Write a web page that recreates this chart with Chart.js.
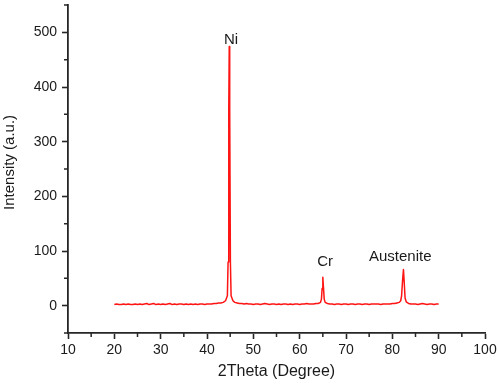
<!DOCTYPE html>
<html>
<head>
<meta charset="utf-8">
<script src="https://cdn.jsdelivr.net/npm/chart.js@4.4.0/dist/chart.umd.min.js"></script>
<style>
  html, body { margin: 0; padding: 0; background: #fff; }
</style>
</head>
<body>
<canvas id="xrd" width="498" height="384"></canvas>
<script>
// XRD pattern — 2θ scan, Ni / Cr / Austenite reflections.
const twoTheta = [
  20, 20.5, 21, 21.5, 22, 22.5, 23, 23.5, 24, 24.5, 25, 25.5, 26, 26.5, 27, 27.5, 28, 28.5, 29, 29.5,
  30, 30.5, 31, 31.5, 32, 32.5, 33, 33.5, 34, 34.5, 35, 35.5, 36, 36.5, 37, 37.5, 38, 38.5, 39, 39.5,
  40, 40.5, 41, 41.5, 42, 42.5, 43, 43.5, 44, 44.4, 44.55, 44.7, 44.8, 44.9, 45.05, 45.2, 45.6, 46, 46.5, 47, 47.5,
  48, 48.5, 49, 49.5, 50, 50.5, 51, 51.5, 52, 52.5, 53, 53.5, 54, 54.5, 55, 55.5, 56, 56.5, 57, 57.5,
  58, 58.5, 59, 59.5, 60, 60.5, 61, 61.5, 62, 62.5, 63, 63.5, 64, 64.5, 64.7, 64.85, 65, 65.15, 65.3, 65.5, 66, 66.5,
  67, 67.5, 68, 68.5, 69, 69.5, 70, 70.5, 71, 71.5, 72, 72.5, 73, 73.5, 74, 74.5, 75, 75.5, 76, 76.5,
  77, 77.5, 78, 78.5, 79, 79.5, 80, 80.5, 81, 81.5, 81.8, 82, 82.2, 82.4, 82.55, 82.75, 83, 83.5, 84, 84.5,
  85, 85.5, 86, 86.5, 87, 87.5, 88, 88.5, 89, 89.5, 90,
];
const intensity = [
  2, 3, 2, 2, 3, 2, 3, 2, 2, 3, 2, 3, 2, 3, 4, 2, 3, 4, 2, 3,
  2, 3, 2, 3, 4, 2, 3, 2, 3, 3, 2, 3, 2, 3, 2, 3, 2, 3, 3, 2,
  3, 3, 3, 4, 4, 5, 5, 6, 9, 18, 80, 360, 474, 360, 80, 18, 9, 6, 5, 4, 4,
  3, 4, 3, 3, 2, 3, 3, 2, 3, 4, 3, 2, 3, 3, 2, 3, 2, 3, 3, 2,
  3, 2, 3, 3, 2, 3, 3, 4, 3, 3, 3, 4, 4, 6, 12, 32, 52, 32, 12, 6, 4, 3,
  3, 2, 3, 3, 2, 3, 3, 2, 3, 3, 2, 3, 3, 2, 3, 3, 2, 3, 3, 3,
  3, 2, 3, 3, 3, 3, 4, 4, 5, 6, 9, 18, 45, 66, 45, 14, 7, 4, 3, 3,
  3, 2, 3, 4, 3, 2, 3, 3, 2, 3, 3,
];

const xMajor = [10, 20, 30, 40, 50, 60, 70, 80, 90, 100];
const xMinor = [15, 25, 35, 45, 55, 65, 75, 85, 95];
const yMajor = [0, 100, 200, 300, 400, 500];
const yMinor = [-50, 50, 150, 250, 350, 450, 550];

const peakNames = ['Ni', 'Cr', 'Austenite'];
const peakX = [45.2, 65.5, 81.7];
const peakY = [487, 81, 90];

const AXIS = '#262626';
const TEXT = '#1a1a1a';
const FONT = '"Liberation Sans", Arial, sans-serif';

// minor ticks, y title (sits a bit above centre in the original) and peak labels
const extras = {
  id: 'extras',
  afterDraw(chart) {
    const { ctx, scales: { x, y } } = chart;
    ctx.save();
    ctx.strokeStyle = AXIS;
    ctx.lineWidth = 1.5;
    ctx.beginPath();
    xMinor.forEach((v) => { const p = x.getPixelForValue(v); ctx.moveTo(p, x.top); ctx.lineTo(p, x.top + 4); });
    yMinor.forEach((v) => { const p = y.getPixelForValue(v); ctx.moveTo(y.right, p); ctx.lineTo(y.right - 4, p); });
    ctx.stroke();

    ctx.fillStyle = TEXT;
    ctx.textAlign = 'center';
    ctx.textBaseline = 'middle';
    ctx.font = `15px ${FONT}`;
    peakNames.forEach((n, i) => ctx.fillText(n, x.getPixelForValue(peakX[i]), y.getPixelForValue(peakY[i])));

    ctx.translate(10, y.getPixelForValue(262));
    ctx.rotate(-Math.PI / 2);
    ctx.fillText('Intensity (a.u.)', 0, 0);
    ctx.restore();
  },
};

const gridOpts = { drawOnChartArea: false, drawTicks: true, tickLength: 6, tickColor: AXIS, tickWidth: 1.6 };
const borderOpts = { display: true, color: AXIS, width: 1.8 };
const noPad = (s) => { s.paddingTop = 0; s.paddingBottom = 0; s.paddingLeft = 0; s.paddingRight = 0; };

new Chart(document.getElementById('xrd'), {
  type: 'line',
  data: {
    datasets: [{
      data: twoTheta.map((t, i) => ({ x: t, y: intensity[i] })),
      borderColor: '#ff1414',
      borderWidth: 1.5,
      borderJoinStyle: 'round',
      pointRadius: 0,
      tension: 0,
      fill: false,
    }],
  },
  options: {
    responsive: false,
    animation: false,
    layout: { padding: { top: 5, right: 13, left: 0, bottom: 0 } },
    plugins: { legend: { display: false }, tooltip: { enabled: false } },
    scales: {
      x: {
        type: 'linear', min: 10, max: 100,
        afterBuildTicks: (s) => { s.ticks = xMajor.map((v) => ({ value: v })); },
        afterFit: (s) => { s.height = 51; noPad(s); },
        grid: gridOpts, border: borderOpts,
        ticks: { color: TEXT, font: { family: FONT, size: 14 }, padding: 3, maxRotation: 0 },
        title: { display: true, text: '2Theta (Degree)', color: TEXT, font: { family: FONT, size: 16 }, padding: { top: 0, bottom: 3 } },
      },
      y: {
        type: 'linear', min: -50, max: 550,
        afterBuildTicks: (s) => { s.ticks = yMajor.map((v) => ({ value: v })); },
        afterFit: (s) => { s.width = 68; noPad(s); },
        grid: gridOpts, border: borderOpts,
        ticks: { color: TEXT, font: { family: FONT, size: 14 }, padding: 5 },
      },
    },
  },
  plugins: [extras],
});
</script>
</body>
</html>
